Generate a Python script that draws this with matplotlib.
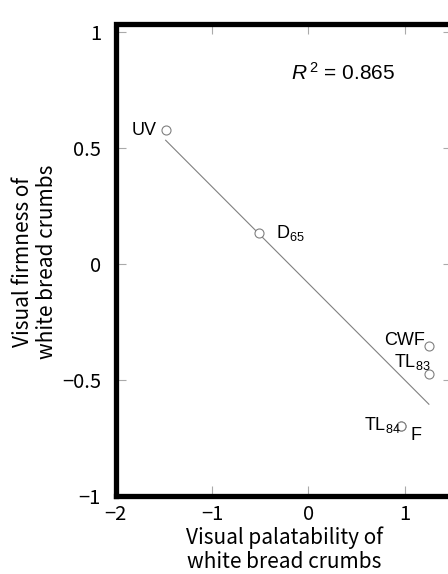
import numpy as np
import matplotlib
matplotlib.use("Agg")
import matplotlib.pyplot as plt

# Data
LABELS = ["UV", "D$_{65}$", "CWF", "TL$_{83}$", "TL$_{84}$", "F"]
PALATABILITY = [-1.48, -0.51, 1.25, 1.25, 0.96, 0.96]
FIRMNESS = [0.575, 0.13, -0.355, -0.476, -0.70, -0.70]
R2_TEXT = "$\\mathit{R}^{\\,2}$ = 0.865"

# label offsets in pixels (dx, dy, ha, va)
LABEL_POS = [
    (-9, 0, "right", "center"),
    (17, 0, "left", "center"),
    (-4, 5, "right", "center"),
    (-35, 12, "left", "center"),
    (-37, 1, "left", "center"),
    (10, -10, "left", "center"),
]

plt.rcParams["mathtext.fontset"] = "custom"
plt.rcParams["mathtext.rm"] = "Liberation Sans"
plt.rcParams["mathtext.it"] = "Liberation Sans:italic"

AX_FONT = ["Noto Sans CJK JP", "DejaVu Sans"]
PT_FONT = "Liberation Sans"

W, H = 448, 574
fig = plt.figure(figsize=(W / 100, H / 100), dpi=100)
left, right, top, bottom = 115.5, 453, 28.5, 495.5
ax = fig.add_axes([left / W, 1 - bottom / H, (right - left) / W, (bottom - top) / H])

x = np.array(PALATABILITY)
y = np.array(FIRMNESS)

# regression line over the data range
slope, icpt = np.polyfit(x, y, 1)
xs = np.array([x.min(), x.max()])
ax.plot(xs, slope * xs + icpt, color="#808080", linewidth=0.8, zorder=2)

ax.plot(x, y, linestyle="none", marker="o", markersize=6.5,
        markerfacecolor="white", markeredgecolor="#808080",
        markeredgewidth=0.8, zorder=3)

for xi, yi, lab, (dx, dy, ha, va) in zip(x, y, LABELS, LABEL_POS):
    ax.annotate(lab, (xi, yi), xytext=(dx, dy), textcoords="offset pixels",
                ha=ha, va=va, fontsize=13, family=PT_FONT)

ax.text(0.52, 0.905, R2_TEXT, transform=ax.transAxes, fontsize=15,
        family=PT_FONT, ha="left", va="center")

ax.set_xlim(-2, 1.5)
ax.set_ylim(-1, 1.013)
ax.set_xticks([-2, -1, 0, 1])
ax.set_yticks([-1, -0.5, 0, 0.5, 1])
ax.set_xticklabels(["\u22122", "\u22121", "0", "1"])
ax.set_yticklabels(["\u22121", "\u22120.5", "0", "0.5", "1"])

for side in ["left", "bottom", "top", "right"]:
    ax.spines[side].set_linewidth(3.8)
    ax.spines[side].set_color("black")
ax.spines["top"].set_position(("outward", 3.5))

ax.tick_params(axis="both", which="both", direction="in", length=7,
               width=0.8, color="#aaaaaa", top=True, right=True,
               labelsize=14.5)
ax.tick_params(axis="x", pad=6)
ax.tick_params(axis="y", pad=10.5)
for t in ax.get_xticklabels() + ax.get_yticklabels():
    t.set_family(AX_FONT)

ax.set_xlabel("Visual palatability of\nwhite bread crumbs",
              fontsize=15, family=AX_FONT, labelpad=1, linespacing=1.15)
ax.set_ylabel("Visual firmness of\nwhite bread crumbs",
              fontsize=15, family=AX_FONT, labelpad=3, linespacing=1.1)

fig.savefig("out.png", dpi=100)
